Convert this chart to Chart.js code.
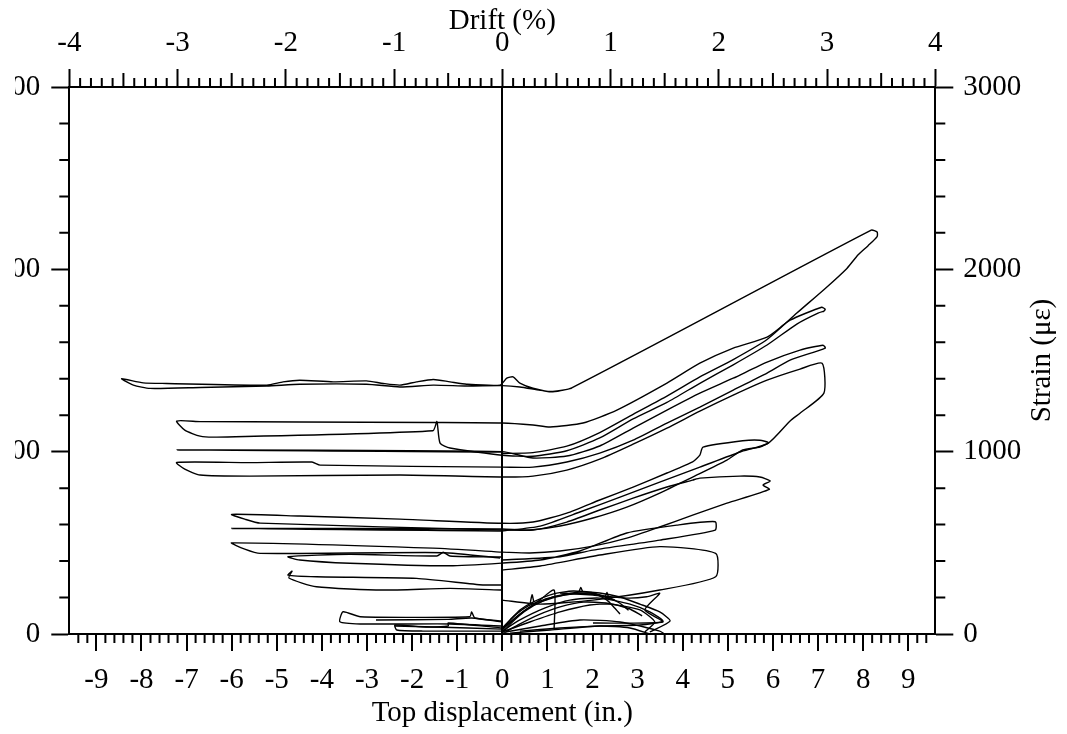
<!DOCTYPE html>
<html>
<head>
<meta charset="utf-8">
<script src="https://cdn.jsdelivr.net/npm/chart.js@4.4.1/dist/chart.umd.min.js"></script>
<style>
  html, body { margin: 0; padding: 0; background: #fff; overflow: hidden; }
  #wrap { position: absolute; left: 15px; top: 0; width: 1052px; height: 734px; }
</style>
</head>
<body>
<div id="wrap"><canvas id="chartStrain" width="1052" height="734"></canvas></div>
<script>
// Strain gauge reading vs top displacement, cyclic test (x in inches, y in microstrain)
const cycle83 = [[0,990],[0.68,995],[1.43,1030],[2.16,1105],[2.9,1205],[3.65,1305],[4.38,1410],[5.12,1505],[5.87,1615],[6.53,1760],[7.16,1895],[7.64,2005],[7.89,2080],[8.11,2130],[8.31,2180],[8.31,2205],[8.18,2215],[1.54,1350],[1.12,1330],[0.84,1337],[0.39,1355],[0,1362],[-0.79,1360],[-1.53,1365],[-2.27,1355],[-3.01,1370],[-4.49,1370],[-5.22,1360],[-6.7,1352],[-7.81,1347],[-8.18,1365],[-8.44,1400],[-7.96,1377],[-7.44,1374],[-5.22,1365],[-4.86,1383],[-4.49,1392],[-3.75,1383],[-3.01,1388],[-2.64,1374],[-2.27,1365],[-1.9,1383],[-1.53,1396],[-1.16,1383],[-0.79,1370],[-0.05,1365],[0.1,1403],[0.24,1410],[0.39,1376],[0.68,1348],[1.12,1328],[1.54,1347]];

const cycle71a = [[7.13,1770],[7.0,1760],[6.53,1700],[5.87,1585],[5.11,1475],[4.38,1375],[3.65,1270],[2.9,1180],[2.16,1075],[1.43,1005],[0.68,975],[0,980],[-1.16,1020],[-1.38,1047],[-1.45,1165],[-1.54,1115],[-6.33,1080],[-6.7,1085],[-7.04,1118],[-7.22,1168],[-6.7,1165],[-4.49,1163],[-1.54,1160],[0,1157],[0.68,1146],[1.06,1135],[1.79,1157],[2.54,1228],[3.65,1376],[4.38,1485],[5.12,1568],[5.87,1628],[6.38,1721],[7.08,1792],[7.16,1781],[7.13,1770]];

const cycle71b = [[0,998],[-7.22,1009],[0,1000],[0.68,965],[1.43,976],[2.16,1031],[2.9,1129],[3.65,1228],[4.38,1321],[5.12,1403],[5.87,1491],[6.6,1557],[7.11,1584],[7.16,1568],[6.38,1502],[5.87,1431],[5.12,1338],[4.38,1244],[3.65,1157],[2.9,1063],[2.16,992],[1.43,943],[0.68,915],[0,915]];

const cycle71c = [[0,915],[-4.04,926],[-4.22,943],[-5.6,940],[-7.22,941],[-7.04,904],[-6.7,872],[-5.6,866],[-2.27,872],[0,861],[0.68,866],[1.43,899],[2.16,959],[2.9,1041],[3.65,1129],[4.38,1222],[5.12,1310],[5.87,1392],[6.6,1453],[7.09,1485],[7.13,1321],[6.6,1211],[6.38,1168],[5.9,1047],[5.27,998],[4.38,915],[3.49,833],[2.61,751],[1.72,669],[0.84,592],[0,565]];

const cycle59a = [[0,570],[-5.37,608],[-5.71,630],[-6.0,656],[-4.49,647],[-2.27,630],[0,607],[0.68,614],[1.43,663],[2.16,735],[2.9,806],[3.65,883],[4.22,944],[4.38,981],[4.45,1025],[5.33,1060],[5.71,1063],[5.9,1049],[5.71,1025],[5.33,1009],[4.98,954],[4.22,861],[3.49,773],[2.76,696],[2.01,636],[1.28,592],[0.61,570],[0,570]];

const cycle59b = [[0,565],[-6.0,579],[0,576],[0.68,570],[1.43,614],[2.16,680],[2.9,745],[3.65,806],[4.22,844],[4.38,855],[5.27,866],[5.71,861],[5.94,839],[5.78,817],[5.92,793],[4.98,718],[4.22,652],[3.49,587],[2.76,526],[2.01,482],[1.28,455],[0.61,444],[0,449]];

const cycle59c = [[0,449],[-1.54,471],[-6.0,500],[-5.71,466],[-5.37,442],[-1.31,446],[-0.05,417]];

const cycle47a = [[0,422],[-1.16,428],[-1.31,448],[-1.45,428],[-3.38,437],[-4.75,424],[-4.49,406],[-3.38,388],[-1.16,374],[0,389],[0.84,406],[1.72,455],[2.76,554],[3.87,597],[4.72,616],[4.72,570],[3.49,515],[2.01,460],[1.28,424],[0,406]];

const cycle47b = [[0,351],[0.84,373],[2.16,433],[3.49,479],[4.73,442],[4.73,314],[3.49,241],[2.01,186],[0.84,164],[0,186]];
const loop47Neg = [[0,269],[-0.43,269],[-1.9,305],[-4.12,314],[-4.75,323],[-4.66,345],[-4.73,307],[-4.12,259],[-2.65,241],[-1.16,250],[0,241]];

const loop35Neg = [[0,44],[-1.16,55],[-3.15,55],[-3.6,67],[-3.53,122],[-3.15,95],[-0.72,95],[-0.68,121],[-0.61,88],[0,71]];
const loop24Neg = [[0,16],[-1.76,16],[-2.34,22],[-2.38,49],[-1.69,38],[-1.2,44],[-1.2,60],[0,33]];
const leftLine1 = [[-2.8,77],[-1.2,80],[-0.68,88],[0,66]];
const leftLine2 = [[-2.38,44],[-1.5,38],[0,27]];

const arc1 = [[0,33],[0.17,77],[0.39,132],[0.68,175],[1.12,219],[1.57,236],[2.01,225],[2.32,186],[2.49,143],[2.61,110]];
const arc2 = [[0,22],[0.28,88],[0.61,148],[1.12,203],[1.72,230],[2.16,225],[2.61,203],[3.05,164],[3.49,121],[3.72,71],[3.27,11]];
const arc3 = [[0,16],[0.39,77],[0.95,143],[1.5,186],[2.16,197],[2.83,164],[3.27,121],[3.56,71],[3.05,49],[2.16,44],[1.28,33],[0.39,16]];
const arc4 = [[0,11],[0.61,66],[1.28,121],[1.94,159],[2.39,164],[3.05,132],[3.38,66],[3.16,11]];
const arc5 = [[0.07,11],[0.84,44],[1.72,77],[2.61,66],[3.49,16],[3.6,0]];
const arc6 = [[0.17,5],[1.06,22],[2.16,44],[2.83,33],[3.27,0]];
const arc7 = [[0,5],[0.2,60],[0.5,125],[0.9,180],[1.4,215],[1.9,225],[2.3,205],[2.6,170],[2.8,130]];
const arc8 = [[0,27],[0.25,95],[0.55,150],[1.0,195],[1.6,222],[2.1,215],[2.5,185]];
const arc9 = [[0,0],[0.35,50],[0.8,105],[1.3,150],[1.8,175],[2.3,170],[2.8,140],[3.1,100]];
const arcV = [[0,27],[0.4,110],[0.8,180],[1.15,241],[1.15,33]];
const arc35 = [[1.28,225],[2.01,214],[2.76,197],[3.2,204],[3.49,223],[3.16,132],[3.56,66],[2.01,60]];
const spike1 = [[0.62,170],[0.66,215],[0.7,175]];
const spike2 = [[1.7,230],[1.74,255],[1.78,232]];
const spike3 = [[2.28,200],[2.32,228],[2.36,195]];

const traces = [cycle83, cycle71a, cycle71b, cycle71c, cycle59a, cycle59b, cycle59c,
  cycle47a, cycle47b, loop47Neg, loop35Neg, loop24Neg, leftLine1, leftLine2,
  arc1, arc2, arc3, arc4, arc5, arc6, arc7, arc8, arc9, arcV, arc35, spike1, spike2, spike3];

const xRange = [-9.6, 9.6];      // top displacement (in.)
const driftRange = [-4, 4];      // drift (%)
const strainRange = [0, 3000];   // microstrain
const leftRange = [0, 300];

const serif = { family: 'Liberation Serif', size: 29 };
const asText = v => String(v);

// minor ticks + rotated right-hand title
const axisExtras = {
  id: 'axisExtras',
  afterDraw(chart) {
    const { ctx, chartArea: a, scales } = chart;
    ctx.save();
    ctx.strokeStyle = '#000';
    ctx.lineWidth = 2;
    ctx.beginPath();
    for (let i = -47; i <= 47; i++) {
      if (i % 5 === 0) continue;
      const px = scales.x.getPixelForValue(i * 0.2);
      ctx.moveTo(px, a.bottom); ctx.lineTo(px, a.bottom + 9);
    }
    for (let i = -39; i <= 39; i++) {
      if (i % 10 === 0) continue;
      const px = scales.x2.getPixelForValue(i / 10);
      const len = i % 5 === 0 ? 14 : 9;
      ctx.moveTo(px, a.top); ctx.lineTo(px, a.top - len);
    }
    for (let v = 200; v < 3000; v += 200) {
      if (v % 1000 === 0) continue;
      const py = scales.y.getPixelForValue(v);
      ctx.moveTo(a.left, py); ctx.lineTo(a.left - 10, py);
      ctx.moveTo(a.right, py); ctx.lineTo(a.right + 10, py);
    }
    ctx.stroke();

    ctx.translate(scales.y.left + 107, (a.top + a.bottom) / 2);
    ctx.rotate(-Math.PI / 2);
    ctx.fillStyle = '#000';
    ctx.font = '29px "Liberation Serif"';
    ctx.textAlign = 'center';
    ctx.textBaseline = 'middle';
    ctx.fillText('Strain (\u03BC\u03B5)', 0, 0);
    ctx.restore();
  }
};

const tickGrid = len => ({
  drawOnChartArea: false, tickLength: len, tickWidth: 2, tickColor: '#000', color: '#000'
});
const axisBorder = { display: true, color: '#000', width: 2 };

new Chart(document.getElementById('chartStrain'), {
  type: 'scatter',
  data: {
    datasets: traces.map(pts => ({
      data: pts.map(([x, y]) => ({ x, y })),
      showLine: true,
      borderColor: '#000',
      borderWidth: 1.4,
      pointRadius: 0,
      tension: 0.2,
      xAxisID: 'x',
      yAxisID: 'y'
    }))
  },
  options: {
    responsive: false,
    animation: false,
    layout: { padding: 0 },
    plugins: { legend: { display: false }, tooltip: { enabled: false } },
    scales: {
      x: {
        type: 'linear', position: 'bottom', min: xRange[0], max: xRange[1],
        ticks: { stepSize: 1, includeBounds: false, color: '#000', font: serif, padding: 12, maxRotation: 0, autoSkip: false, callback: asText },
        grid: {
          drawOnChartArea: true, tickLength: 17, tickWidth: 2, tickColor: '#000', lineWidth: 2,
          color: c => (c.tick && c.tick.value === 0 ? '#000' : 'rgba(0,0,0,0)')
        },
        border: axisBorder,
        title: { display: true, text: 'Top displacement (in.)', color: '#000', font: serif, padding: { top: 0, bottom: 3 } },
        afterFit: s => { s.height = 100; }
      },
      x2: {
        type: 'linear', position: 'top', min: driftRange[0], max: driftRange[1],
        ticks: { stepSize: 1, color: '#000', font: serif, padding: 8, maxRotation: 0, autoSkip: false, callback: asText },
        grid: tickGrid(18),
        border: axisBorder,
        title: { display: true, text: 'Drift (%)', color: '#000', font: serif, padding: { top: 4, bottom: 0 } },
        afterFit: s => { s.height = 87; }
      },
      y: {
        type: 'linear', position: 'right', min: strainRange[0], max: strainRange[1],
        ticks: { stepSize: 1000, color: '#000', font: serif, padding: 10, callback: asText },
        grid: tickGrid(18),
        border: axisBorder,
        afterFit: s => { s.width = 131.7; }
      },
      yL: {
        type: 'linear', position: 'left', min: leftRange[0], max: leftRange[1],
        ticks: { stepSize: 100, color: '#000', font: serif, padding: 11, callback: asText },
        grid: tickGrid(18),
        border: axisBorder,
        afterFit: s => { s.width = 54.3; }
      }
    }
  },
  plugins: [axisExtras]
});
</script>
</body>
</html>
